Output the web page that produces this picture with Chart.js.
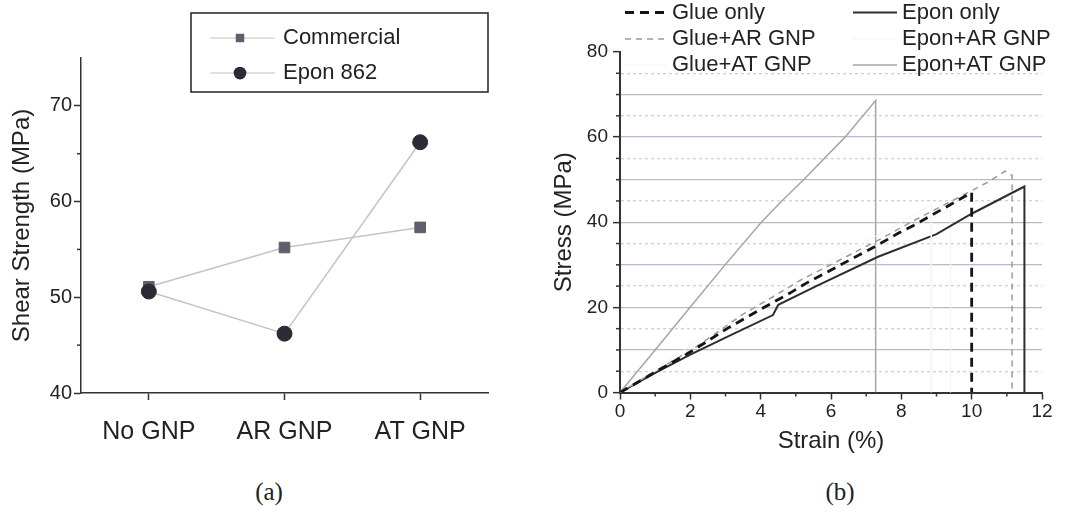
<!DOCTYPE html>
<html>
<head>
<meta charset="utf-8">
<script src="https://cdn.jsdelivr.net/npm/chart.js@4.4.1/dist/chart.umd.min.js"></script>
<style>
html,body{margin:0;padding:0;background:#fff;width:1065px;height:513px;overflow:hidden}
#wa{position:absolute;left:0;top:0;width:530px;height:470px}
#wb{position:absolute;left:540px;top:0;width:525px;height:470px}
.cap{position:absolute;font-family:"Liberation Serif","Times New Roman",serif;font-size:25px;color:#222;transform:translateX(-50%);white-space:nowrap}
</style>
</head>
<body>
<div id="wa"><canvas id="ca" width="530" height="470"></canvas></div>
<div id="wb"><canvas id="cb" width="525" height="470"></canvas></div>
<div class="cap" style="left:269px;top:478px">(a)</div>
<div class="cap" style="left:840px;top:478px">(b)</div>
<script>
const FONT = '"Liberation Sans", Arial, sans-serif';

// ---- (a) shear strength ----
const categories = ['No GNP', 'AR GNP', 'AT GNP'];
const commercialMPa = [51.1, 55.2, 57.3];
const epon862MPa = [50.6, 46.2, 66.2];
const shearTickValues = [40, 45, 50, 55, 60, 65, 70];
const shearLabelValues = [40, 50, 60, 70];

// ---- (b) stress-strain ----
const strainTickValues = [0, 1, 2, 3, 4, 5, 6, 7, 8, 9, 10, 11, 12];
const strainLabelValues = [0, 2, 4, 6, 8, 10, 12];
const stressTickValues = [0, 5, 10, 15, 20, 25, 30, 35, 40, 45, 50, 55, 60, 65, 70, 75, 80];
const stressLabelValues = [0, 20, 40, 60, 80];

const glueOnlyStrain = [0, 1, 2, 3.1, 3.97, 4.82, 5.3, 7.3, 7.91, 8.38, 9.62, 10.0, 10.0];
const glueOnlyStress = [0, 4.8, 9.5, 15.3, 19.4, 23.3, 25.7, 34.5, 37.4, 39.4, 45.2, 47.0, 0];
const glueArStrain = [0, 1, 2, 2.74, 3.5, 4.35, 5.16, 7.44, 8.29, 10.48, 10.95, 11.15, 11.15];
const glueArStress = [0, 5.0, 9.8, 14.0, 18.4, 22.5, 26.5, 36.2, 40.1, 49.5, 52.0, 51.0, 0];
const glueAtStrain = [0, 2, 4, 6, 8, 8.85, 8.85];
const glueAtStress = [0, 11, 21, 31, 40, 44, 0];
const eponOnlyStrain = [0, 1, 2, 3, 4.35, 4.5, 5.58, 7.34, 9.0, 10.0, 11.5, 11.5];
const eponOnlyStress = [0, 4.6, 8.9, 12.9, 18.2, 20.6, 25.0, 31.9, 37.2, 42.0, 48.4, 0];
const eponArStrain = [0, 2, 4, 6, 8, 9.4, 9.4];
const eponArStress = [0, 10, 20, 29, 37.5, 43, 0];
const eponAtStrain = [0, 1, 2, 3, 4, 4.6, 5.22, 6.4, 7.27, 7.27];
const eponAtStress = [0, 10, 20.1, 30.1, 39.8, 45.0, 50.0, 60.0, 68.6, 0];

const pts = (xs, ys) => xs.map((x, i) => ({x: x, y: ys[i]}));

const minorTicksPlugin = {
  id: 'minorTicks',
  afterDraw(chart, args, opts) {
    const ctx = chart.ctx;
    ctx.save();
    ctx.strokeStyle = opts.color; ctx.lineWidth = opts.width;
    (opts.items || []).forEach(it => {
      const s = chart.scales[it.scale];
      it.values.forEach(v => {
        const p = s.getPixelForValue(v);
        ctx.beginPath();
        if (s.isHorizontal()) { ctx.moveTo(p, s.top); ctx.lineTo(p, s.top + it.length); }
        else { ctx.moveTo(s.right, p); ctx.lineTo(s.right - it.length, p); }
        ctx.stroke();
      });
    });
    ctx.restore();
  }
};

const boxLegendPlugin = {
  id: 'boxLegend',
  afterDraw(chart, args, o) {
    const ctx = chart.ctx;
    ctx.save();
    ctx.fillStyle = '#fff';
    ctx.fillRect(o.box[0], o.box[1], o.box[2] - o.box[0], o.box[3] - o.box[1]);
    ctx.strokeStyle = '#222'; ctx.lineWidth = 1.5;
    ctx.strokeRect(o.box[0], o.box[1], o.box[2] - o.box[0], o.box[3] - o.box[1]);
    ctx.font = o.fontSize + 'px ' + FONT; ctx.textBaseline = 'middle'; ctx.fillStyle = '#222';
    chart.data.datasets.forEach((ds, i) => {
      const y = o.rows[i];
      ctx.beginPath(); ctx.strokeStyle = ds.borderColor; ctx.lineWidth = 1.2;
      ctx.moveTo(o.x0, y); ctx.lineTo(o.x1, y); ctx.stroke();
      ctx.fillStyle = ds.pointBackgroundColor;
      ctx.beginPath();
      if (ds.pointStyle === 'rect') {
        const h = ds.pointRadius * Math.SQRT1_2 * 0.8;
        ctx.rect(o.xm - h, y - h, 2 * h, 2 * h);
      } else {
        ctx.arc(o.xm, y, ds.pointRadius * 0.85, 0, Math.PI * 2);
      }
      ctx.fill();
      ctx.fillStyle = '#222';
      ctx.fillText(ds.label, o.text, y);
    });
    ctx.restore();
  }
};

const lineLegendPlugin = {
  id: 'lineLegend',
  afterDraw(chart, args, o) {
    const ctx = chart.ctx;
    ctx.save();
    ctx.font = o.fontSize + 'px ' + FONT; ctx.textBaseline = 'middle';
    chart.data.datasets.forEach((ds, i) => {
      const col = o.columns[Math.floor(i / o.rows.length)];
      const y = o.rows[i % o.rows.length];
      ctx.beginPath(); ctx.strokeStyle = ds.borderColor; ctx.lineWidth = ds.borderWidth;
      ctx.setLineDash(ds.borderDash || []);
      ctx.moveTo(col.x0, y); ctx.lineTo(col.x1, y); ctx.stroke();
      ctx.setLineDash([]);
      ctx.fillStyle = '#222';
      ctx.fillText(ds.label, col.text, y);
    });
    ctx.restore();
  }
};

// ---------- Chart (a) ----------
new Chart(document.getElementById('ca'), {
  type: 'line',
  data: {
    labels: categories,
    datasets: [
      {label: 'Commercial', data: commercialMPa, order: 1, borderColor: '#c4c4c4', borderWidth: 1.5,
       pointStyle: 'rect', pointRadius: 7.5, pointBackgroundColor: '#5f5f6b', pointBorderColor: '#5f5f6b', pointBorderWidth: 1},
      {label: 'Epon 862', data: epon862MPa, order: 0, borderColor: '#c4c4c4', borderWidth: 1.5,
       pointStyle: 'circle', pointRadius: 7.5, pointBackgroundColor: '#2b2b35', pointBorderColor: '#2b2b35', pointBorderWidth: 1}
    ]
  },
  options: {
    responsive: false, animation: false, devicePixelRatio: 1,
    layout: {padding: {left: 0, top: 58, right: 42, bottom: 0}},
    plugins: {
      legend: {display: false}, tooltip: {enabled: false},
      boxLegend: {box: [191, 13, 488, 92], rows: [38, 73], x0: 210, x1: 275, xm: 240, text: 283, fontSize: 22},
      minorTicks: {color: '#333', width: 1.5, items: [{scale: 'y', values: [45, 55, 65], length: 4}]}
    },
    scales: {
      x: {
        type: 'category', offset: true,
        grid: {offset: false, drawOnChartArea: false, tickLength: 7, tickColor: '#333', tickWidth: 1.5},
        border: {color: '#333', width: 1.5},
        ticks: {font: {family: FONT, size: 25}, color: '#222', padding: 17, maxRotation: 0, autoSkip: false},
        afterFit: s => { s.height = 77; }
      },
      y: {
        type: 'linear', min: 40, max: 75,
        afterBuildTicks: a => { a.ticks = shearTickValues.map(v => ({value: v})); },
        afterFit: s => { s.width = 81; },
        grid: {drawOnChartArea: false, tickLength: 7, tickWidth: 1.5,
               tickColor: c => (c.tick && shearLabelValues.includes(c.tick.value)) ? '#333' : 'rgba(0,0,0,0)'},
        border: {color: '#333', width: 1.5},
        ticks: {font: {family: FONT, size: 20}, color: '#222', padding: 2, autoSkip: false,
                callback: v => shearLabelValues.includes(v) ? String(v) : ''},
        title: {display: true, text: 'Shear Strength (MPa)', color: '#222', font: {family: FONT, size: 24}, padding: {top: 8, bottom: 0}}
      }
    }
  },
  plugins: [minorTicksPlugin, boxLegendPlugin]
});

// ---------- Chart (b) ----------
const gridColor = v => {
  if (v === undefined || v === 0 || v === 80) return 'rgba(0,0,0,0)';
  return v % 10 === 0 ? '#b7bac8' : '#d2d2d2';
};

new Chart(document.getElementById('cb'), {
  type: 'line',
  data: {
    datasets: [
      {label: 'Glue only', data: pts(glueOnlyStrain, glueOnlyStress), borderColor: '#151515', borderWidth: 2.8, borderDash: [9, 6]},
      {label: 'Glue+AR GNP', data: pts(glueArStrain, glueArStress), borderColor: '#9a9a9a', borderWidth: 1.5, borderDash: [6, 5]},
      {label: 'Glue+AT GNP', data: pts(glueAtStrain, glueAtStress), borderColor: '#f4f4f4', borderWidth: 1},
      {label: 'Epon only', data: pts(eponOnlyStrain, eponOnlyStress), borderColor: '#2e2e2e', borderWidth: 2},
      {label: 'Epon+AR GNP', data: pts(eponArStrain, eponArStress), borderColor: '#f4f4f4', borderWidth: 1},
      {label: 'Epon+AT GNP', data: pts(eponAtStrain, eponAtStress), borderColor: '#a5a5a5', borderWidth: 1.5}
    ]
  },
  options: {
    responsive: false, animation: false, devicePixelRatio: 1,
    elements: {point: {radius: 0}, line: {tension: 0}},
    layout: {padding: {left: 0, top: 52, right: 23, bottom: 0}},
    plugins: {
      legend: {display: false}, tooltip: {enabled: false},
      lineLegend: {fontSize: 22, rows: [12.5, 39, 65],
                   columns: [{x0: 85, x1: 127, text: 132}, {x0: 313, x1: 357, text: 362}]},
      minorTicks: {color: '#333', width: 1.5, items: [
        {scale: 'x', values: strainTickValues.filter(v => !strainLabelValues.includes(v)), length: 4},
        {scale: 'y', values: stressTickValues.filter(v => !stressLabelValues.includes(v)), length: 4}
      ]}
    },
    scales: {
      x: {
        type: 'linear', min: 0, max: 12,
        afterBuildTicks: a => { a.ticks = strainTickValues.map(v => ({value: v})); },
        afterFit: s => { s.height = 77.5; },
        grid: {drawOnChartArea: false, tickLength: 7, tickWidth: 1.5,
               tickColor: c => (c.tick && strainLabelValues.includes(c.tick.value)) ? '#333' : 'rgba(0,0,0,0)'},
        border: {color: '#333', width: 2},
        ticks: {font: {family: FONT, size: 19}, color: '#222', padding: 1, autoSkip: false, maxRotation: 0,
                callback: v => strainLabelValues.includes(v) ? String(v) : ''},
        title: {display: true, text: 'Strain (%)', color: '#222', font: {family: FONT, size: 24}, padding: {top: 0, bottom: 14}}
      },
      y: {
        type: 'linear', min: 0, max: 80,
        afterBuildTicks: a => { a.ticks = stressTickValues.map(v => ({value: v})); },
        afterFit: s => { s.width = 80; },
        grid: {drawOnChartArea: true, tickLength: 7, tickWidth: 1.5, lineWidth: 1.3,
               color: c => gridColor(c.tick ? c.tick.value : undefined),
               tickColor: c => (c.tick && stressLabelValues.includes(c.tick.value)) ? '#333' : 'rgba(0,0,0,0)'},
        border: {color: '#333', width: 2,
                 dash: c => (c.tick && c.tick.value % 10 !== 0) ? [3, 3] : []},
        ticks: {font: {family: FONT, size: 19}, color: '#222', padding: 5, autoSkip: false,
                callback: v => stressLabelValues.includes(v) ? String(v) : ''},
        title: {display: true, text: 'Stress (MPa)', color: '#222', font: {family: FONT, size: 24}, padding: {top: 10, bottom: 0}}
      }
    }
  },
  plugins: [minorTicksPlugin, lineLegendPlugin]
});
</script>
</body>
</html>
